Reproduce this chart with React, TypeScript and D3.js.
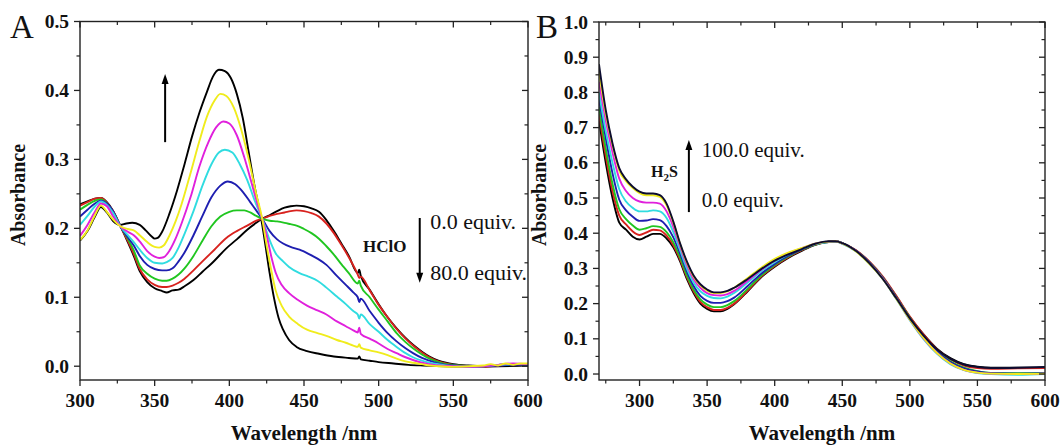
import React from 'react';
import * as d3 from 'd3';

type Pt = [number, number];

// ---------------- Panel A (HClO titration) ----------------
const hclo0: Pt[] = [[300,.235],[305,.239],[310,.243],[314,.244],[318,.238],[322,.226],[327,.204],[332,.18],[336,.16],[340,.138],[345,.122],[350,.113],[355,.109],[358,.107],[362,.11],[366,.111],[370,.116],[376,.125],[382,.137],[390,.153],[398,.171],[405,.184],[412,.198],[418,.208],[422,.214],[427,.219],[432,.225],[437,.23],[441,.232],[445,.233],[450,.232],[455,.229],[460,.224],[465,.212],[470,.196],[475,.178],[480,.16],[486,.135],[487,.14],[488,.131],[494,.111],[500,.09],[506,.071],[512,.055],[518,.041],[523,.031],[529,.021],[534,.014],[540,.008],[545,.005],[550,.003],[560,.001],[570,0],[580,.001],[590,.001],[600,.002]];
const hcloRed: Pt[] = [[300,.233],[305,.238],[310,.243],[314,.244],[318,.237],[322,.225],[327,.203],[332,.182],[336,.163],[340,.141],[345,.126],[350,.118],[355,.115],[358,.115],[362,.117],[366,.121],[370,.127],[376,.139],[382,.152],[390,.169],[398,.186],[405,.196],[412,.204],[418,.211],[422,.214],[427,.218],[432,.221],[437,.223],[441,.225],[445,.226],[450,.225],[455,.222],[460,.217],[465,.207],[470,.193],[475,.176],[480,.158],[486,.133],[487,.128],[488,.13],[494,.11],[500,.089],[506,.071],[512,.054],[518,.04],[523,.03],[529,.02],[534,.013],[540,.007],[545,.004],[550,.002],[560,0],[570,-.001],[580,.001],[590,.002],[600,.002]];
const hcloGreen: Pt[] = [[300,.227],[305,.234],[310,.24],[314,.242],[318,.236],[322,.224],[327,.203],[332,.185],[336,.168],[340,.146],[345,.134],[350,.127],[355,.124],[358,.124],[362,.127],[366,.133],[370,.142],[376,.16],[382,.182],[388,.203],[394,.217],[400,.224],[405,.226],[410,.226],[414,.223],[418,.218],[422,.214],[427,.211],[432,.21],[437,.208],[441,.206],[445,.204],[450,.199],[455,.193],[460,.185],[465,.174],[470,.162],[475,.148],[480,.135],[486,.12],[487,.124],[488,.117],[494,.1],[500,.082],[506,.065],[512,.048],[518,.035],[523,.026],[529,.017],[534,.011],[540,.006],[545,.003],[550,.002],[560,0],[570,0],[580,.002],[590,.003],[600,.002]];
const hcloBlue: Pt[] = [[300,.217],[305,.227],[310,.236],[314,.24],[318,.236],[322,.225],[327,.203],[332,.187],[336,.175],[340,.16],[345,.147],[350,.141],[355,.139],[358,.139],[362,.142],[366,.152],[370,.165],[376,.19],[382,.218],[388,.245],[394,.262],[399,.268],[404,.264],[409,.253],[414,.238],[418,.226],[422,.214],[427,.196],[432,.184],[436,.178],[441,.173],[447,.169],[453,.163],[459,.156],[465,.147],[472,.131],[478,.118],[483,.107],[486,.1],[487,.093],[488,.098],[494,.08],[500,.063],[506,.048],[512,.036],[518,.026],[523,.019],[529,.012],[534,.008],[540,.004],[545,.002],[550,.001],[560,0],[570,0],[580,.001],[590,.002],[600,.002]];
const hcloCyan: Pt[] = [[300,.205],[305,.218],[310,.232],[314,.239],[318,.234],[322,.223],[327,.203],[332,.19],[336,.18],[340,.169],[345,.157],[350,.15],[355,.149],[358,.151],[362,.157],[366,.172],[370,.192],[376,.225],[382,.262],[388,.293],[393,.31],[397,.314],[402,.31],[407,.293],[412,.27],[417,.24],[422,.214],[427,.183],[431,.164],[436,.152],[440,.144],[447,.135],[453,.13],[459,.124],[465,.114],[472,.101],[478,.09],[483,.08],[486,.075],[487,.069],[488,.075],[494,.061],[500,.05],[506,.038],[512,.028],[518,.019],[523,.013],[529,.008],[534,.005],[540,.003],[545,.001],[550,0],[560,-.001],[570,0],[580,.002],[590,.003],[600,.003]];
const hcloMagenta: Pt[] = [[300,.189],[305,.205],[310,.224],[314,.236],[318,.232],[322,.218],[327,.203],[332,.195],[336,.19],[340,.181],[345,.167],[350,.159],[353,.157],[356,.158],[360,.168],[364,.185],[368,.207],[374,.245],[380,.29],[386,.325],[391,.346],[396,.355],[400,.352],[405,.335],[410,.303],[415,.265],[419,.234],[422,.214],[425,.19],[428,.16],[431,.136],[435,.118],[440,.106],[446,.096],[452,.088],[459,.081],[465,.075],[472,.065],[478,.058],[483,.052],[486,.049],[487,.056],[488,.047],[494,.04],[500,.033],[506,.025],[512,.019],[518,.013],[523,.009],[529,.005],[534,.003],[540,.001],[550,0],[560,-.001],[570,0],[580,.002],[590,.004],[600,.003]];
const hcloYellow: Pt[] = [[300,.183],[305,.197],[310,.219],[314,.233],[318,.224],[322,.213],[327,.203],[332,.199],[336,.197],[340,.19],[345,.18],[350,.173],[353,.172],[356,.175],[360,.19],[364,.21],[368,.235],[374,.28],[380,.327],[385,.362],[390,.385],[394,.395],[398,.392],[403,.375],[408,.343],[413,.3],[418,.25],[422,.214],[425,.175],[428,.14],[431,.11],[435,.088],[440,.072],[446,.061],[452,.053],[459,.048],[465,.044],[472,.038],[478,.034],[483,.03],[486,.028],[487,.032],[488,.027],[494,.023],[500,.02],[506,.016],[512,.011],[518,.007],[523,.005],[529,.003],[534,.001],[540,0],[550,-.001],[560,0],[570,.001],[575,.003],[580,.001],[585,.004],[590,.002],[595,.004],[600,.004]];
const hclo80: Pt[] = [[300,.182],[305,.196],[310,.217],[314,.231],[318,.223],[322,.211],[327,.205],[331,.207],[335,.208],[340,.205],[344,.197],[348,.188],[350,.185],[352,.186],[355,.195],[360,.222],[365,.255],[370,.293],[375,.333],[380,.368],[385,.398],[389,.42],[393,.43],[397,.428],[401,.418],[405,.395],[409,.36],[413,.31],[417,.26],[421,.218],[424,.178],[427,.135],[430,.098],[433,.07],[436,.053],[440,.038],[445,.028],[452,.022],[460,.018],[470,.014],[480,.012],[486,.011],[487,.014],[488,.01],[494,.008],[500,.006],[510,.004],[520,.002],[530,.001],[545,0],[560,-.001],[580,0],[600,.001]];

// ---------------- Panel B (H2S titration) ----------------
const h2s0: Pt[] = [[270,.72],[275,.6],[280,.5],[285,.43],[290,.41],[295,.39],[300,.382],[305,.39],[310,.398],[315,.398],[320,.385],[325,.36],[330,.32],[335,.27],[340,.23],[345,.2],[350,.185],[355,.178],[360,.178],[365,.185],[370,.198],[380,.235],[390,.275],[400,.305],[410,.33],[420,.35],[430,.367],[440,.375],[445,.376],[450,.371],[460,.35],[470,.318],[480,.275],[490,.22],[500,.162],[510,.113],[520,.072],[530,.045],[540,.028],[550,.021],[560,.018],[580,.018],[600,.019]];
const h2sRed: Pt[] = [[270,.74],[275,.62],[280,.52],[285,.45],[290,.425],[295,.405],[300,.395],[305,.402],[310,.41],[315,.408],[320,.393],[325,.366],[330,.325],[335,.275],[340,.235],[345,.205],[350,.19],[355,.182],[360,.182],[365,.188],[370,.2],[380,.237],[390,.277],[400,.307],[410,.332],[420,.352],[430,.368],[440,.376],[445,.377],[450,.372],[460,.352],[470,.32],[480,.277],[490,.222],[500,.163],[510,.113],[520,.07],[530,.042],[540,.024],[550,.017],[560,.015],[580,.016],[600,.017]];
const h2sGreen: Pt[] = [[270,.76],[275,.64],[280,.54],[285,.468],[290,.44],[295,.422],[300,.41],[305,.414],[310,.42],[315,.418],[320,.403],[325,.374],[330,.331],[335,.28],[340,.24],[345,.212],[350,.197],[355,.19],[360,.19],[365,.196],[370,.207],[380,.242],[390,.28],[400,.31],[410,.334],[420,.353],[430,.368],[440,.376],[445,.377],[450,.372],[460,.351],[470,.318],[480,.274],[490,.218],[500,.16],[510,.108],[520,.066],[530,.036],[540,.018],[550,.008],[560,.003],[580,.002],[600,.003]];
const h2sBlue: Pt[] = [[270,.78],[275,.67],[280,.57],[285,.495],[290,.465],[295,.447],[300,.435],[305,.436],[310,.44],[315,.437],[320,.42],[325,.388],[330,.342],[335,.291],[340,.25],[345,.222],[350,.208],[355,.202],[360,.202],[365,.207],[370,.217],[380,.25],[390,.285],[400,.313],[410,.336],[420,.354],[430,.369],[440,.376],[445,.377],[450,.372],[460,.351],[470,.317],[480,.273],[490,.217],[500,.158],[510,.106],[520,.064],[530,.034],[540,.016],[550,.007],[560,.002],[580,.001],[600,.002]];
const h2sCyan: Pt[] = [[270,.8],[275,.69],[280,.6],[285,.525],[290,.49],[295,.472],[300,.462],[305,.462],[310,.465],[315,.462],[320,.443],[325,.403],[330,.352],[335,.3],[340,.26],[345,.235],[350,.222],[355,.216],[360,.215],[365,.22],[370,.23],[380,.26],[390,.292],[400,.318],[410,.34],[420,.356],[430,.369],[440,.375],[445,.376],[450,.37],[460,.349],[470,.314],[480,.27],[490,.213],[500,.153],[510,.1],[520,.058],[530,.028],[540,.011],[550,.003],[560,0],[580,-.002],[600,0]];
const h2sMagenta: Pt[] = [[270,.83],[275,.72],[280,.63],[285,.555],[290,.52],[295,.5],[300,.49],[305,.487],[310,.487],[315,.484],[320,.462],[325,.418],[330,.362],[335,.31],[340,.27],[345,.245],[350,.23],[355,.224],[360,.223],[365,.227],[370,.236],[380,.265],[390,.296],[400,.322],[410,.343],[420,.357],[430,.37],[440,.376],[445,.377],[450,.371],[460,.35],[470,.315],[480,.271],[490,.215],[500,.155],[510,.102],[520,.06],[530,.03],[540,.012],[550,.004],[560,.001],[580,0],[600,.001]];
const h2sYellow: Pt[] = [[270,.86],[275,.74],[280,.65],[285,.578],[290,.548],[295,.528],[300,.514],[305,.508],[310,.508],[315,.503],[320,.479],[325,.43],[330,.369],[335,.317],[340,.277],[345,.252],[350,.237],[355,.23],[360,.23],[365,.235],[370,.245],[380,.273],[390,.302],[400,.327],[410,.345],[420,.358],[430,.37],[440,.376],[445,.377],[450,.371],[460,.349],[470,.313],[480,.27],[490,.214],[500,.155],[510,.103],[520,.06],[530,.03],[540,.012],[550,.004],[560,.001],[580,0],[600,.001]];
const h2s100: Pt[] = [[270,.88],[275,.75],[280,.655],[285,.585],[290,.553],[295,.532],[300,.518],[305,.513],[310,.513],[315,.508],[320,.484],[325,.433],[330,.371],[335,.32],[340,.28],[345,.255],[350,.24],[355,.232],[360,.232],[365,.236],[370,.245],[380,.27],[390,.298],[400,.322],[410,.34],[420,.355],[430,.37],[440,.377],[445,.377],[450,.372],[460,.35],[470,.315],[480,.27],[490,.215],[500,.158],[510,.11],[520,.07],[530,.043],[540,.027],[550,.02],[560,.017],[580,.018],[600,.02]];

// ---------------- ticks ----------------
const aXMajor = [300, 350, 400, 450, 500, 550, 600];
const aXMinor = [325, 375, 425, 475, 525, 575];
const aYMajor = [0, 0.1, 0.2, 0.3, 0.4, 0.5];
const aYMinor = [0.05, 0.15, 0.25, 0.35, 0.45];
const bXMajor = [300, 350, 400, 450, 500, 550, 600];
const bXMinor = [275, 325, 375, 425, 475, 525, 575];
const bYMajor = [0, 0.1, 0.2, 0.3, 0.4, 0.5, 0.6, 0.7, 0.8, 0.9, 1.0];
const bYMinor = [0.05, 0.15, 0.25, 0.35, 0.45, 0.55, 0.65, 0.75, 0.85, 0.95];

const FONT = '"Liberation Serif", "Times New Roman", serif';

type Series = { color: string; data: Pt[] };
const seriesA: Series[] = [
  { color: '#000000', data: hclo80 },
  { color: '#000000', data: hclo0 },
  { color: '#d8221e', data: hcloRed },
  { color: '#20c620', data: hcloGreen },
  { color: '#1e1eb0', data: hcloBlue },
  { color: '#30dce0', data: hcloCyan },
  { color: '#e020dc', data: hcloMagenta },
  { color: '#f0ec1c', data: hcloYellow },
];
const seriesB: Series[] = [
  { color: '#000000', data: h2s0 },
  { color: '#d8221e', data: h2sRed },
  { color: '#20c620', data: h2sGreen },
  { color: '#1e1eb0', data: h2sBlue },
  { color: '#30dce0', data: h2sCyan },
  { color: '#e020dc', data: h2sMagenta },
  { color: '#f0ec1c', data: h2sYellow },
  { color: '#0c0c30', data: h2s100 },
];

type PanelProps = {
  left: number; right: number; top: number; bottom: number;
  xDomain: [number, number]; yDomain: [number, number];
  xMajor: number[]; xMinor: number[]; yMajor: number[]; yMinor: number[];
  series: Series[]; letter: string; letterX: number; yLabelX: number;
  children?: (x: d3.ScaleLinear<number, number>, y: d3.ScaleLinear<number, number>) => React.ReactNode;
};

function Panel(p: PanelProps) {
  const x = d3.scaleLinear().domain(p.xDomain).range([p.left, p.right]);
  const y = d3.scaleLinear().domain(p.yDomain).range([p.bottom, p.top]);
  const line = d3.line<Pt>().x(d => x(d[0])).y(d => y(d[1])).curve(d3.curveMonotoneX);
  const fmt = d3.format('.1f');
  const maj = 6, mn = 3.5;
  const axisColor = '#222';
  return (
    <g>
      <defs>
        <clipPath id={'clip' + p.letter}>
          <rect x={p.left} y={p.top} width={p.right - p.left} height={p.bottom - p.top} />
        </clipPath>
      </defs>
      <g clipPath={`url(#clip${p.letter})`}>
        {p.series.map((s, i) => (
          <path key={i} d={line(s.data) || ''} fill="none" stroke={s.color} strokeWidth={1.9} strokeLinejoin="round" />
        ))}
      </g>
      <rect x={p.left} y={p.top} width={p.right - p.left} height={p.bottom - p.top} fill="none" stroke={axisColor} strokeWidth={1.4} />
      {p.xMajor.map(v => (
        <g key={'xm' + v}>
          <line x1={x(v)} x2={x(v)} y1={p.bottom} y2={p.bottom + maj} stroke={axisColor} strokeWidth={1.3} />
          <line x1={x(v)} x2={x(v)} y1={p.top} y2={p.top + maj} stroke={axisColor} strokeWidth={1.3} />
          <text x={x(v)} y={p.bottom + 27} textAnchor="middle" fontFamily={FONT} fontWeight="bold" fontSize={19.5} fill="#111">{v}</text>
        </g>
      ))}
      {p.xMinor.map(v => (
        <g key={'xn' + v}>
          <line x1={x(v)} x2={x(v)} y1={p.bottom} y2={p.bottom + mn} stroke={axisColor} strokeWidth={1.2} />
          <line x1={x(v)} x2={x(v)} y1={p.top} y2={p.top + mn} stroke={axisColor} strokeWidth={1.2} />
        </g>
      ))}
      {p.yMajor.map(v => (
        <g key={'ym' + v}>
          <line x1={p.left - maj} x2={p.left} y1={y(v)} y2={y(v)} stroke={axisColor} strokeWidth={1.3} />
          <line x1={p.right - maj} x2={p.right} y1={y(v)} y2={y(v)} stroke={axisColor} strokeWidth={1.3} />
          <text x={p.left - 11} y={y(v) + 6.5} textAnchor="end" fontFamily={FONT} fontWeight="bold" fontSize={19.5} fill="#111">{fmt(v)}</text>
        </g>
      ))}
      {p.yMinor.map(v => (
        <g key={'yn' + v}>
          <line x1={p.left - mn} x2={p.left} y1={y(v)} y2={y(v)} stroke={axisColor} strokeWidth={1.2} />
          <line x1={p.right - mn} x2={p.right} y1={y(v)} y2={y(v)} stroke={axisColor} strokeWidth={1.2} />
        </g>
      ))}
      <text x={(p.left + p.right) / 2} y={440} textAnchor="middle" fontFamily={FONT} fontWeight="bold" fontSize={21} fill="#111">Wavelength /nm</text>
      <text transform={`translate(${p.yLabelX},${195}) rotate(-90)`} textAnchor="middle" fontFamily={FONT} fontWeight="bold" fontSize={20} fill="#111">Absorbance</text>
      <text x={p.letterX} y={38} fontFamily={FONT} fontSize={33} fill="#111">{p.letter}</text>
      {p.children && p.children(x, y)}
    </g>
  );
}

function Arrow({ x, y1, y2 }: { x: number; y1: number; y2: number }) {
  const dir = y2 < y1 ? -1 : 1;
  const head = 10;
  return (
    <g>
      <line x1={x} x2={x} y1={y1} y2={y2 - dir * head + dir * 1} stroke="#000" strokeWidth={2} />
      <polygon points={`${x},${y2} ${x - 3.5},${y2 - dir * head} ${x + 3.5},${y2 - dir * head}`} fill="#000" />
    </g>
  );
}

// annotation anchors (data coordinates)
const aArrowUp = { w: 357, from: 0.325, to: 0.424 };
const aArrowDown = { w: 527.5, from: 0.215, to: 0.121 };
const aLabels = [
  { w: 534.5, v: 0.199, text: '0.0 equiv.' },
  { w: 534.5, v: 0.125, text: '80.0 equiv.' },
];
const aReagent = { w: 489.5, v: 0.166, text: 'HClO' };
const bArrowUp = { w: 336.5, from: 0.46, to: 0.665 };
const bLabels = [
  { w: 346, v: 0.616, text: '100.0 equiv.' },
  { w: 346, v: 0.474, text: '0.0 equiv.' },
];
const bReagent = { w: 308.5, v: 0.56 };

export default function App() {
  return (
    <svg width={1064} height={445} style={{ display: 'block', position: 'absolute', left: 0, top: 0, background: '#fff' }}>
      <rect x={0} y={0} width={1064} height={445} fill="#fff" />
      <Panel left={80} right={528} top={21.5} bottom={380} xDomain={[300, 600]} yDomain={[-0.02, 0.5]}
        xMajor={aXMajor} xMinor={aXMinor} yMajor={aYMajor} yMinor={aYMinor}
        series={seriesA} letter="A" letterX={10} yLabelX={25}>
        {(x, y) => (
          <g>
            <Arrow x={x(aArrowUp.w)} y1={y(aArrowUp.from)} y2={y(aArrowUp.to)} />
            <Arrow x={x(aArrowDown.w)} y1={y(aArrowDown.from)} y2={y(aArrowDown.to)} />
            {aLabels.map(l => (
              <text key={l.text} x={x(l.w)} y={y(l.v)} fontFamily={FONT} fontSize={22} fill="#111">{l.text}</text>
            ))}
            <text x={x(aReagent.w)} y={y(aReagent.v)} fontFamily={FONT} fontWeight="bold" fontSize={17} fill="#111">{aReagent.text}</text>
          </g>
        )}
      </Panel>
      <Panel left={599} right={1045} top={22} bottom={380} xDomain={[270, 600]} yDomain={[-0.017, 1.0]}
        xMajor={bXMajor} xMinor={bXMinor} yMajor={bYMajor} yMinor={bYMinor}
        series={seriesB} letter="B" letterX={536} yLabelX={546}>
        {(x, y) => (
          <g>
            <Arrow x={x(bArrowUp.w)} y1={y(bArrowUp.from)} y2={y(bArrowUp.to)} />
            {bLabels.map(l => (
              <text key={l.text} x={x(l.w)} y={y(l.v)} fontFamily={FONT} fontSize={21} fill="#111">{l.text}</text>
            ))}
            <text x={x(bReagent.w)} y={y(bReagent.v)} fontFamily={FONT} fontWeight="bold" fontSize={16} fill="#111">
              H<tspan fontSize={11} dy={4}>2</tspan><tspan dy={-4}>S</tspan>
            </text>
          </g>
        )}
      </Panel>
    </svg>
  );
}
